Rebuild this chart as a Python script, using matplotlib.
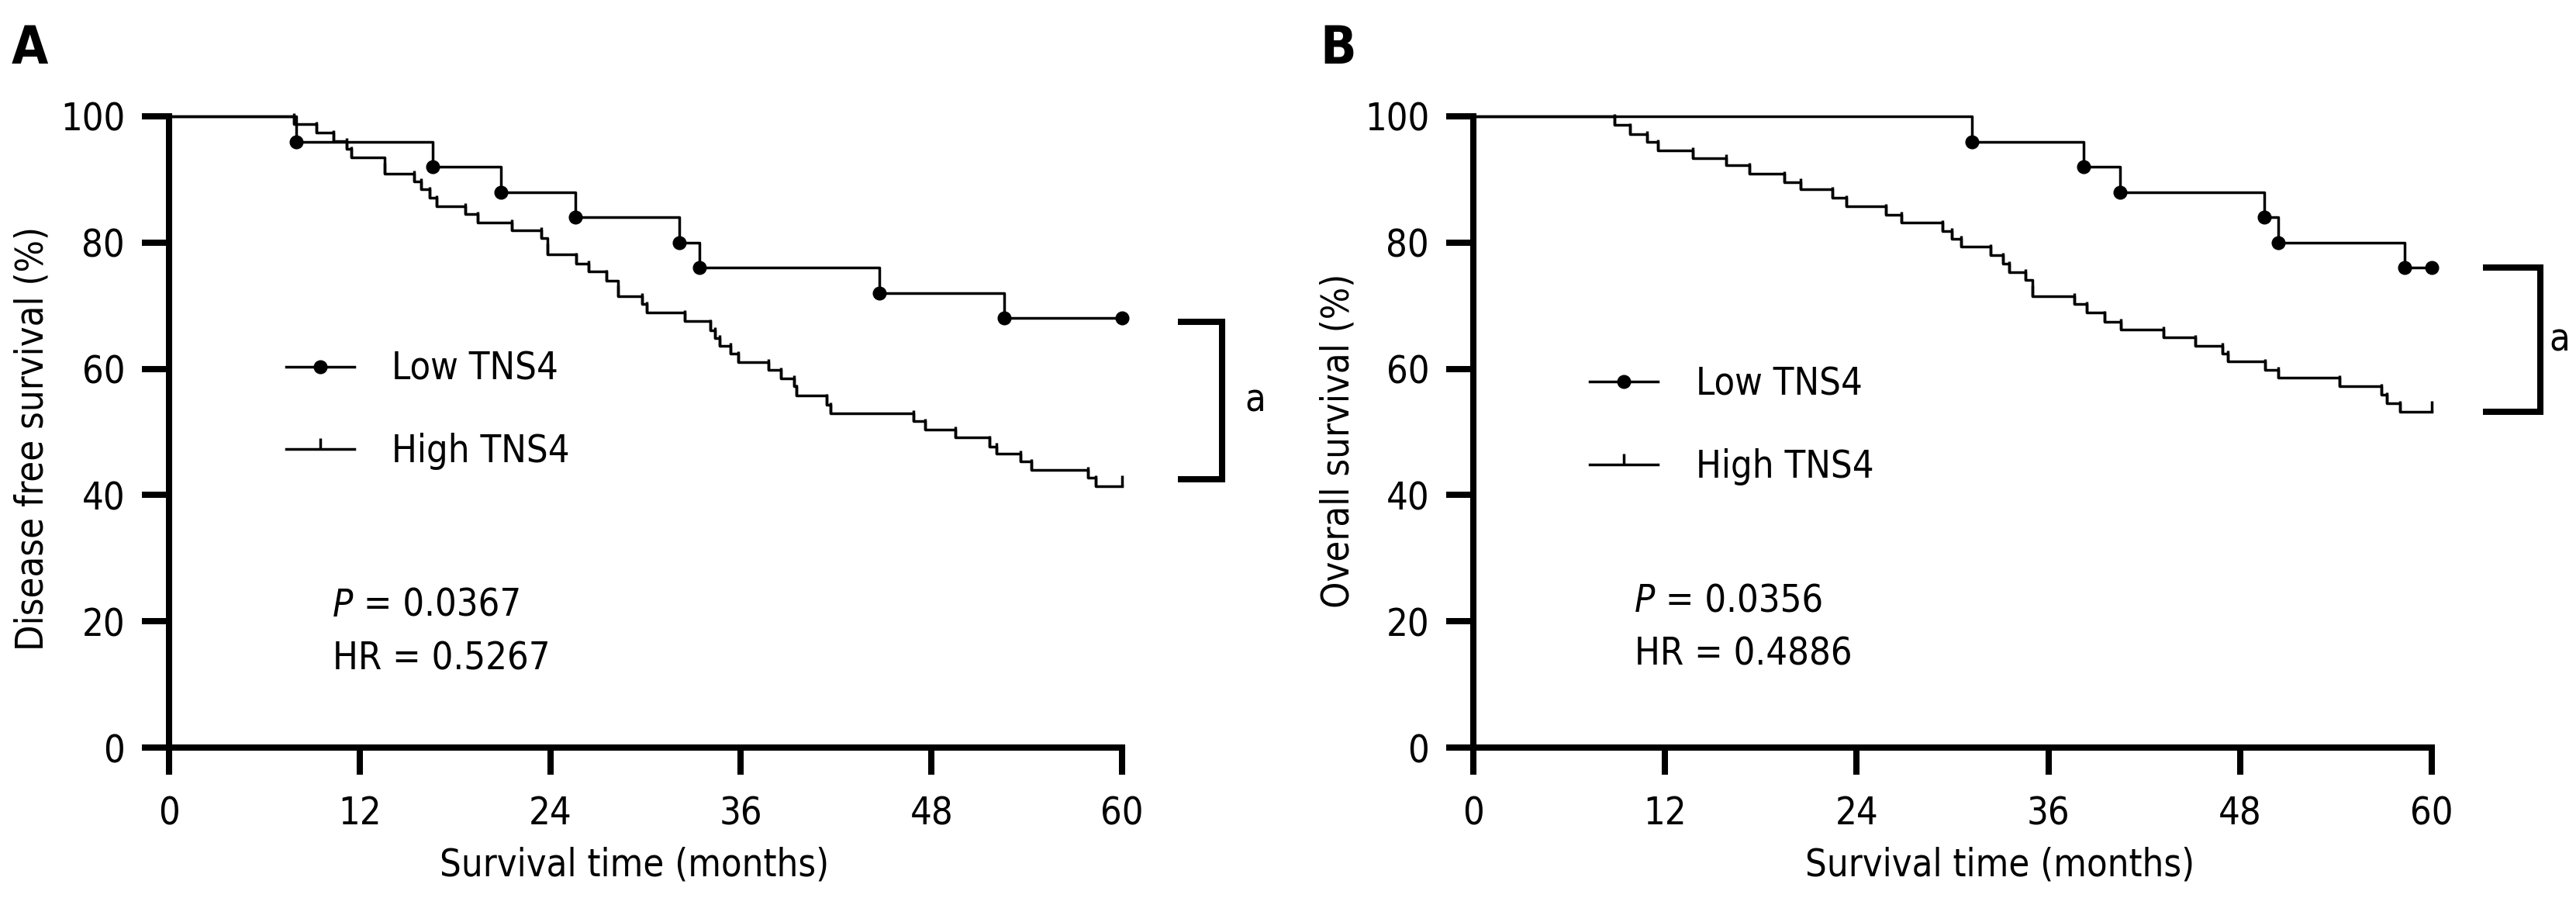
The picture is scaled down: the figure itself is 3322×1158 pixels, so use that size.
import os
import matplotlib
matplotlib.use("Agg")
import matplotlib.pyplot as plt
import matplotlib.font_manager as fm
from matplotlib.lines import Line2D

# panel A - disease free survival
months_low_a = [0, 8.0, 16.6, 20.9, 25.6, 32.1, 33.4, 44.7, 52.6, 60]
surv_low_a = [100, 96, 92, 88, 84, 80, 76, 72, 68, 68]
months_high_a = [0, 7.84, 9.3, 10.36, 11.17, 11.45, 13.55, 15.45, 15.85, 16.42, 16.84,
                 18.64, 19.42, 21.6, 23.44, 23.82, 25.62, 26.4, 27.54, 28.27, 29.8,
                 30.07, 32.45, 34.08, 34.38, 34.67, 35.37, 35.82, 37.74, 38.53, 39.33,
                 39.5, 41.4, 41.66, 46.85, 47.6, 49.5, 51.64, 52.1, 53.6, 54.3,
                 57.84, 58.33, 60]
surv_high_a = [100, 98.8, 97.4, 96.1, 94.8, 93.5, 90.95, 89.65, 88.4, 87.1, 85.7,
               84.5, 83.2, 81.9, 80.7, 78.1, 76.7, 75.4, 74.0, 71.5, 70.3,
               68.9, 67.6, 66.1, 64.9, 63.6, 62.4, 61.1, 59.8, 58.5, 57.2,
               55.8, 54.3, 53.0, 51.7, 50.4, 49.1, 47.7, 46.5, 45.3, 44.0,
               42.7, 41.4, 41.4]

# panel B - overall survival
months_low_b = [0, 31.2, 38.2, 40.5, 49.5, 50.4, 58.3, 60]
surv_low_b = [100, 96, 92, 88, 84, 80, 76, 76]
months_high_b = [0, 8.81, 9.81, 10.86, 11.56, 13.74, 15.8, 17.3, 19.48, 20.49,
                 22.48, 23.37, 25.83, 26.8, 29.35, 29.95, 30.55, 32.4, 33.15, 33.53,
                 34.57, 35.0, 37.6, 38.4, 39.49, 40.55, 43.2, 45.2, 46.9, 47.24,
                 49.56, 50.37, 54.24, 56.85, 57.17, 58.0, 60]
surv_high_b = [100, 98.7, 97.2, 96.0, 94.6, 93.4, 92.2, 90.9, 89.6, 88.4,
               87.1, 85.7, 84.4, 83.2, 81.85, 80.6, 79.3, 78.0, 76.7, 75.3,
               74.1, 71.5, 70.3, 68.9, 67.5, 66.2, 65.0, 63.6, 62.4, 61.2,
               59.8, 58.6, 57.2, 55.9, 54.6, 53.2, 53.2]

x_ticks = [0, 12, 24, 36, 48, 60]
y_ticks = [0, 20, 40, 60, 80, 100]
group_labels = ["Low TNS4", "High TNS4"]
stats_a = ["0.0367", "0.5267"]
stats_b = ["0.0356", "0.4886"]

FS = 35
LW = 2.5
SPINE = 5.8


# the original looks like Tahoma; condensed DejaVu is closest, else Liberation Sans
def font(fname, fallback, size, **kw):
    for f in fm.fontManager.ttflist:
        if os.path.basename(f.fname) == fname:
            return fm.FontProperties(fname=f.fname, size=size)
    return fm.FontProperties(family=fallback, size=size, **kw)


fp = font('DejaVuSansCondensed.ttf', 'Liberation Sans', FS)
fp_it = font('DejaVuSansCondensed-Oblique.ttf', 'Liberation Sans', FS, style='italic')
fp_bold = font('DejaVuSansCondensed-Bold.ttf', 'Liberation Sans', 49, weight='bold')

fig = plt.figure(figsize=(33.22, 11.58), dpi=100)
axA = fig.add_axes([0.06562, 0.16753, 0.36996, 0.70294])
axB = fig.add_axes([0.57195, 0.16753, 0.37207, 0.70294])


def km_panel(ax, t_low, s_low, t_high, s_high, ylabel, stats, leg_xy, ylab_xy, xlab_x,
             txt_xy, bracket):
    ax.step(t_low, s_low, where='post', color='black', lw=LW, zorder=3, clip_on=False)
    ax.plot(t_low[1:], s_low[1:], ls='none', marker='o', ms=12, color='black', zorder=4, clip_on=False)
    ax.step(t_high, s_high, where='post', color='black', lw=LW, zorder=3, clip_on=False)
    ax.plot(t_high[1:], s_high[1:], ls='none', marker=2, ms=10, mew=LW, color='black', zorder=4, clip_on=False)

    ax.set_xlim(0, 60)
    ax.set_ylim(0, 100)
    ax.set_xticks(x_ticks, labels=[str(v) for v in x_ticks], fontproperties=fp)
    ax.set_yticks(y_ticks, labels=[str(v) for v in y_ticks], fontproperties=fp)
    for s in ['top', 'right']:
        ax.spines[s].set_visible(False)
    for s in ['left', 'bottom']:
        ax.spines[s].set_linewidth(SPINE)
        ax.spines[s].set_capstyle('projecting')
    ax.tick_params(axis='both', width=SPINE, length=25, direction='out')
    ax.tick_params(axis='y', pad=16)
    ax.tick_params(axis='x', pad=19)

    ax.set_xlabel("Survival time (months)", fontproperties=fp)
    ax.xaxis.set_label_coords(xlab_x, -0.157)
    ax.set_ylabel(ylabel, fontproperties=fp)
    ax.yaxis.set_label_coords(*ylab_xy)

    handles = [Line2D([], [], color='black', lw=LW, marker='o', ms=12),
               Line2D([], [], color='black', lw=LW, marker=2, ms=10, mew=LW)]
    ax.legend(handles, group_labels, loc='center left', bbox_to_anchor=leg_xy,
              frameon=False, prop=fp, handlelength=1.8, handletextpad=1.0,
              labelspacing=1.2, borderpad=0, borderaxespad=0, numpoints=1)

    p = ax.text(txt_xy[0], txt_xy[1], 'P', transform=ax.transAxes,
                fontproperties=fp_it, ha='left', va='center')
    ax.annotate(' = ' + stats[0], xy=(1, 0), xycoords=p, ha='left', va='bottom',
                fontproperties=fp)
    ax.text(txt_xy[0], txt_xy[1] - 0.084, 'HR = ' + stats[1], transform=ax.transAxes,
            fontproperties=fp, ha='left', va='center')

    # significance bracket (x0, x1, top, bottom, label x) drawn outside the axes
    bx0, bx1, top, bot, ax_a = bracket
    ax.plot([bx0, bx1, bx1, bx0], [top, top, bot, bot], color='black',
            lw=SPINE, clip_on=False, solid_joinstyle='miter', solid_capstyle='butt')
    ax.text(ax_a, (top + bot) / 2, 'a', fontproperties=fp, ha='center', va='center')


km_panel(axA, months_low_a, surv_low_a, months_high_a, surv_high_a,
         "Disease free survival (%)", stats_a, (0.123, 0.5345),
         (-0.1237, 0.49), 0.488, (0.1717, 0.225), (63.5, 66.3, 67.4, 42.5, 68.4))
km_panel(axB, months_low_b, surv_low_b, months_high_b, surv_high_b,
         "Overall survival (%)", stats_b, (0.1217, 0.5105),
         (-0.1214, 0.486), 0.549, (0.168, 0.232), (63.2, 66.8, 76.0, 53.2, 68.0))

fig.text(15 / 3322, 1 - 82 / 1158, 'A', fontproperties=fp_bold, va='baseline')
fig.text(1702 / 3322, 1 - 82 / 1158, 'B', fontproperties=fp_bold, va='baseline')

fig.savefig('out.png', dpi=100, facecolor='white')
